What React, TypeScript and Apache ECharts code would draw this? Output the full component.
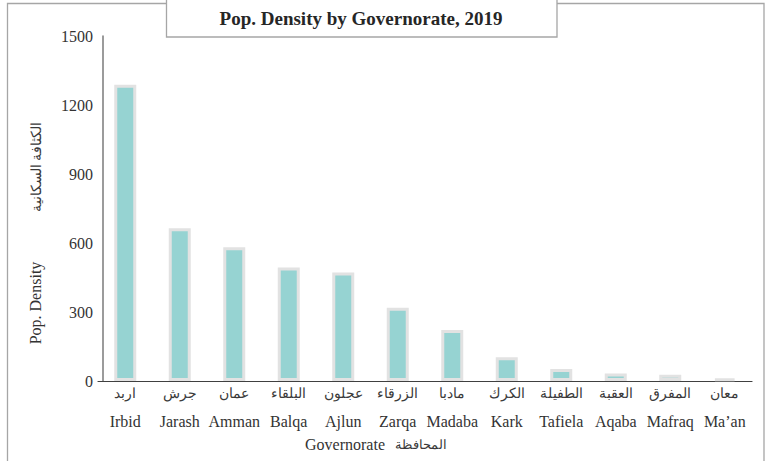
import React, { useEffect, useRef } from "react";
import * as echarts from "echarts";

const categoriesEn = ["Irbid", "Jarash", "Amman", "Balqa", "Ajlun", "Zarqa", "Madaba", "Kark", "Tafiela", "Aqaba", "Mafraq", "Ma’an"];
const categoriesAr = ["اربد", "جرش", "عمان", "البلقاء", "عجلون", "الزرقاء", "مادبا", "الكرك", "الطفيلة", "العقبة", "المفرق", "معان"];
const densityValues = [1288, 664, 581, 494, 472, 318, 222, 103, 52, 33, 27, 10];
const yTicks = [0, 300, 600, 900, 1200, 1500];

const titleText = "Pop. Density by Governorate, 2019";
const yNameEn = "Pop. Density";
const yNameAr = "الكثافة السكانية";
const xNameEn = "Governorate";
const xNameAr = "المحافظة";

const FONT = "'Liberation Serif', 'Times New Roman', 'DejaVu Serif', serif";

export default function App() {
  const ref = useRef<HTMLDivElement>(null);
  useEffect(() => {
    if (!ref.current) return;
    const chart = echarts.init(ref.current, null, { renderer: "svg" });
    chart.setOption({
      animation: false,
      backgroundColor: "#ffffff",
      textStyle: { fontFamily: FONT },
      grid: { left: 98, right: 15, top: 36, bottom: 80, containLabel: false },
      xAxis: {
        type: "category",
        data: categoriesEn,
        axisLine: { show: true, lineStyle: { color: "#404040", width: 1.2 } },
        axisTick: { show: false },
        axisLabel: {
          margin: 2,
          interval: 0,
          formatter: (v: string, i: number) => `{ar|${categoriesAr[i]}}\n{en|${v}}`,
          rich: {
            ar: { fontFamily: FONT, fontSize: 14, color: "#3a3a3a", lineHeight: 20 },
            en: { fontFamily: FONT, fontSize: 16, color: "#333333", lineHeight: 36 },
          },
        },
        splitLine: { show: false },
      },
      yAxis: {
        type: "value",
        min: yTicks[0],
        max: yTicks[yTicks.length - 1],
        interval: yTicks[1] - yTicks[0],
        offset: -5,
        axisLine: { show: true, lineStyle: { color: "#7a7a7a", width: 1.5 } },
        axisTick: { show: false },
        splitLine: { show: false },
        axisLabel: {
          fontFamily: FONT,
          fontSize: 16,
          color: "#333333",
          margin: 10,
          formatter: (v: number) => String(v),
        },
      },
      series: [
        {
          type: "bar",
          data: densityValues,
          barWidth: 22,
          itemStyle: { color: "#96d3d2", borderColor: "#e2e2e2", borderWidth: 3 },
        },
      ],
      graphic: [
        {
          type: "rect",
          z: 0,
          silent: true,
          shape: { x: 7.5, y: 3.5, width: 756.5, height: 480 },
          style: { fill: "none", stroke: "#a6a6a6", lineWidth: 1.3 },
        },
        {
          type: "rect",
          z: 10,
          silent: true,
          shape: { x: 166.5, y: -5, width: 390.5, height: 42 },
          style: { fill: "#ffffff", stroke: "#a6a6a6", lineWidth: 1.3 },
        },
        {
          type: "text",
          z: 11,
          x: 361,
          y: 18,
          style: {
            text: titleText,
            fontFamily: FONT,
            fontSize: 19,
            fontWeight: "bold",
            fill: "#262626",
            align: "center",
            verticalAlign: "middle",
          },
        },
        {
          type: "text",
          z: 11,
          x: 35,
          y: 303,
          rotation: Math.PI / 2,
          style: { text: yNameEn, fontFamily: FONT, fontSize: 16, fill: "#333333", align: "center", verticalAlign: "middle" },
        },
        {
          type: "text",
          z: 11,
          x: 36,
          y: 167,
          rotation: Math.PI / 2,
          style: { text: yNameAr, fontFamily: FONT, fontSize: 14, fill: "#3a3a3a", align: "center", verticalAlign: "middle" },
        },
        {
          type: "text",
          z: 11,
          x: 345,
          y: 444,
          style: { text: xNameEn, fontFamily: FONT, fontSize: 16, fill: "#333333", align: "center", verticalAlign: "middle" },
        },
        {
          type: "text",
          z: 11,
          x: 421,
          y: 444,
          style: { text: xNameAr, fontFamily: FONT, fontSize: 13, fill: "#3a3a3a", align: "center", verticalAlign: "middle" },
        },
      ],
    });
    return () => chart.dispose();
  }, []);
  return <div ref={ref} style={{ position: "absolute", left: 0, top: 0, width: 767, height: 461 }} />;
}
